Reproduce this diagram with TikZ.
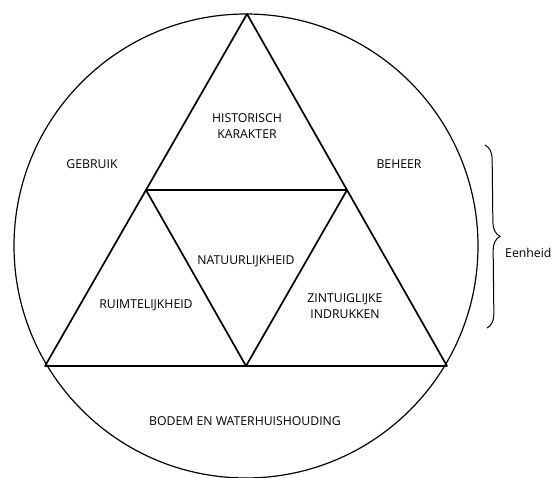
\documentclass[tikz,border=0pt]{standalone}
\usepackage{fontspec}
\setmainfont{Open Sans}
\usetikzlibrary{decorations.pathreplacing,calc}
\begin{document}
\begin{tikzpicture}[x=1bp,y=-1bp,
  line/.style={line width=1.7bp, line join=round},
  lab/.style={font=\fontsize{12.3}{15.5}\selectfont, align=center, inner sep=0pt}]
\useasboundingbox (0,0) rectangle (560,478);
\coordinate (C) at (246,246);
\draw[line width=1.2bp] (C) circle[radius=232];
\coordinate (A) at (247,14);
\coordinate (L) at (45,366);
\coordinate (R) at (447,366);
\coordinate (ML) at ($(A)!0.5!(L)$);
\coordinate (MR) at ($(A)!0.5!(R)$);
\coordinate (MB) at ($(L)!0.5!(R)$);
\draw[line] (A) -- (L) -- (R) -- cycle;
\draw[line] (ML) -- (MR) -- (MB) -- cycle;
\node[lab] (hk) at (247,126) {HISTORISCH\\KARAKTER};
\node[lab] (ge) at (92,164) {GEBRUIK};
\node[lab] (be) at (399,164) {BEHEER};
\node[lab] (na) at (246,261) {NATUURLIJKHEID};
\node[lab] (ru) at (146,305) {RUIMTELIJKHEID};
\node[lab] (zi) at (345,306) {ZINTUIGLIJKE\\INDRUKKEN};
\node[lab] (bo) at (245,421) {BODEM EN WATERHUISHOUDING};
\coordinate (bt) at (485,145);
\coordinate (bb) at (487,328);
\draw[line width=1bp, decorate, decoration={brace, amplitude=14bp}] (bt) -- (bb);
\node[lab, anchor=west] (ee) at (505,253) {Eenheid};
\end{tikzpicture}
\end{document}
